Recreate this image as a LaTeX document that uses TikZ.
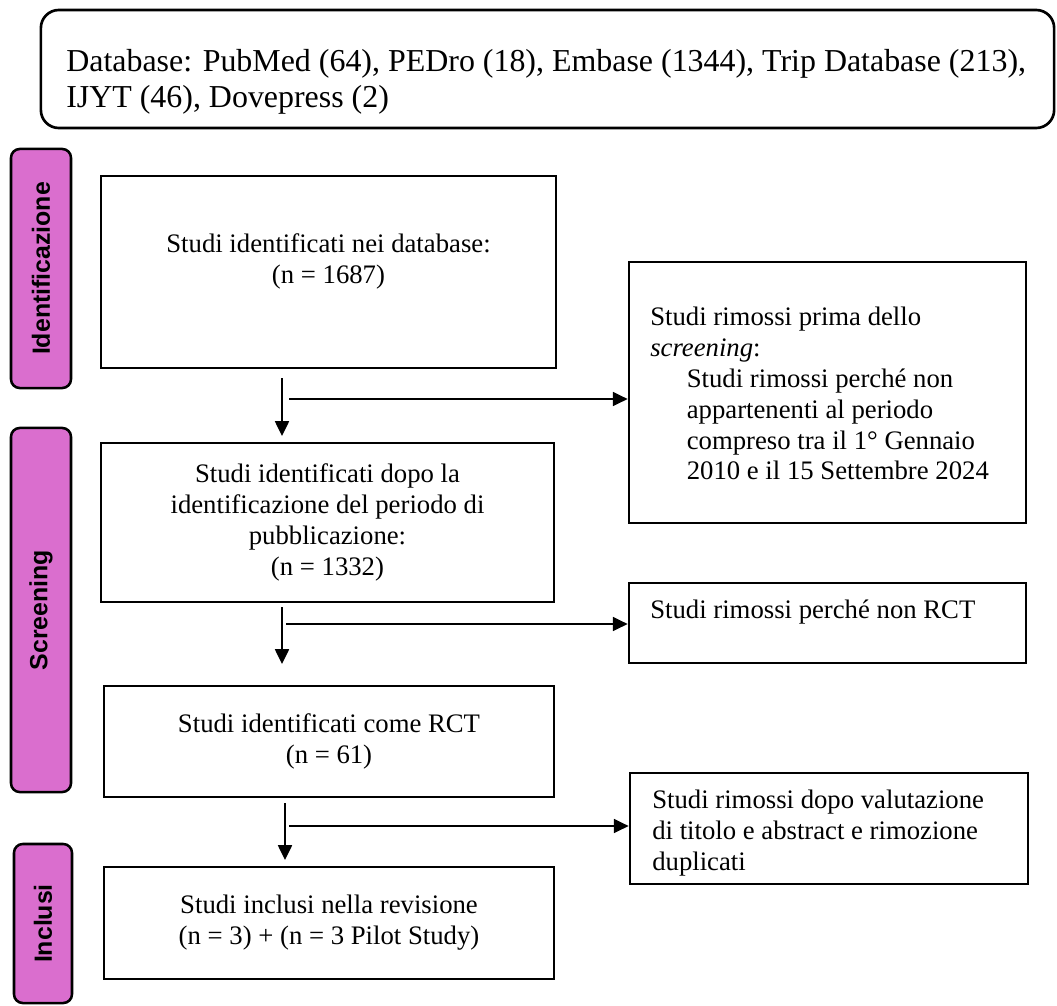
\documentclass[tikz,border=0pt]{standalone}
\usepackage{fontspec}
\setmainfont{Liberation Serif}
\newfontfamily\phasefont{Liberation Sans}
\usetikzlibrary{arrows.meta}

\definecolor{phasepink}{RGB}{218,110,206}

\begin{document}
\begin{tikzpicture}[x=0.025cm,y=0.025cm,
  box/.style={draw=black, line width=1.9pt, fill=white, inner sep=0pt, align=center,
    font=\fontsize{19}{22}\selectfont},
  txt/.style={inner sep=0pt, font=\fontsize{19}{22}\selectfont},
  dbbox/.style={draw=black, line width=1.9pt, rounded corners=0.45cm, inner sep=0pt},
  phase/.style={draw=black, line width=1.8pt, fill=phasepink, rounded corners=0.22cm,
    inner sep=0pt, rotate=90, font=\phasefont\bfseries\fontsize{17.7}{20}\selectfont},
  arr/.style={line width=1.1pt, -{Triangle[length=10.5pt, width=10pt]}}
]
\useasboundingbox (0,0) rectangle (1057,-1005);

% databases searched
\node[dbbox, minimum width=25.325cm, minimum height=2.95cm] (db) at (547.5,-69) {};
\node[inner sep=0pt, anchor=west, align=left, font=\fontsize{22.7}{26}\selectfont] (dbt) at (66,-82)
  {Database: PubMed (64), PEDro (18), Embase (1344), Trip Database (213),\\IJYT (46), Dovepress (2)};

% phase labels
\node[phase, minimum width=5.975cm, minimum height=1.5cm] (p1) at (41,-268.5) {Identificazione};
\node[phase, minimum width=9.1cm, minimum height=1.5cm] (p2) at (41,-610) {Screening};
\node[phase, minimum width=3.975cm, minimum height=1.45cm] (p3) at (43,-923.5) {Inclusi};

% main flow
\node[box, minimum width=11.375cm, minimum height=4.8cm] (b1) at (328.5,-272) {};
\node[txt, align=center] (b1t) at (328.5,-261.5) {Studi identificati nei database:\\(n = 1687)};

\node[box, minimum width=11.325cm, minimum height=3.975cm] (b2) at (327.5,-522.5)
  {Studi identificati dopo la\\identificazione del periodo di\\pubblicazione:\\(n = 1332)};

\node[box, minimum width=11.25cm, minimum height=2.775cm] (b3) at (329,-741.5)
  {Studi identificati come RCT\\(n = 61)};

\node[box, minimum width=11.25cm, minimum height=2.8cm] (b4) at (329,-923)
  {Studi inclusi nella revisione\\(n = 3) + (n = 3 Pilot Study)};

% exclusions
\node[box, minimum width=9.925cm, minimum height=6.525cm] (r1) at (827.5,-392.5) {};
\node[txt, anchor=west, align=left] (r1t) at (650,-393.5)
  {Studi rimossi prima dello\\\textit{screening}:\\
   \hspace*{26pt}Studi rimossi perché non\\
   \hspace*{26pt}appartenenti al periodo\\
   \hspace*{26pt}compreso tra il 1° Gennaio\\
   \hspace*{26pt}2010 e il 15 Settembre 2024};

\node[box, minimum width=9.925cm, minimum height=2cm] (r2) at (827.5,-623) {};
\node[txt, anchor=west] (r2t) at (650,-612) {Studi rimossi perché non RCT};

\node[box, minimum width=9.95cm, minimum height=2.775cm] (r3) at (829,-828.5) {};
\node[txt, anchor=west, align=left] (r3t) at (652,-833)
  {Studi rimossi dopo valutazione\\di titolo e abstract e rimozione\\duplicati};

% connectors
\coordinate (v1s) at (282,-378);
\coordinate (v1e) at (282,-436);
\coordinate (h1s) at (289,-399);
\draw[arr] (v1s) -- (v1e);
\draw[arr] (h1s) -- (h1s -| r1.west);

\coordinate (v2s) at (282,-607);
\coordinate (v2e) at (282,-664);
\coordinate (h2s) at (286,-624);
\draw[arr] (v2s) -- (v2e);
\draw[arr] (h2s) -- (h2s -| r2.west);

\coordinate (v3s) at (285,-803);
\coordinate (v3e) at (285,-860);
\coordinate (h3s) at (289,-826);
\draw[arr] (v3s) -- (v3e);
\draw[arr] (h3s) -- (h3s -| r3.west);
\end{tikzpicture}
\end{document}
